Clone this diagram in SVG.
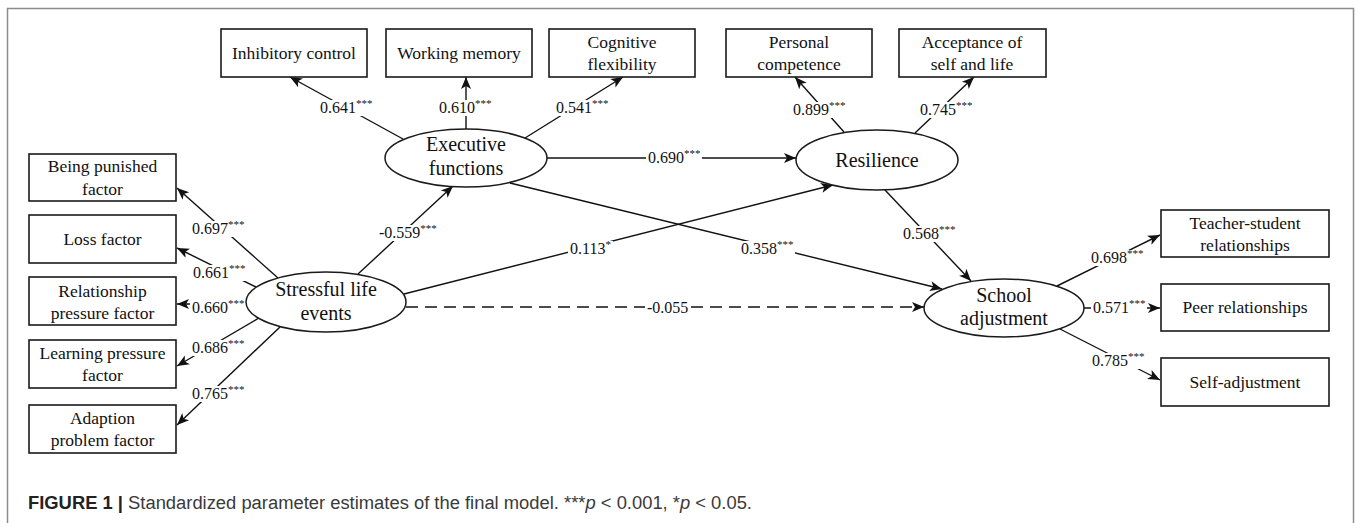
<svg xmlns="http://www.w3.org/2000/svg" width="1358" height="523" viewBox="0 0 1358 523">
<style>
.box{fill:#fff;stroke:#1a1a1a;stroke-width:1.6}
.ell{fill:#fff;stroke:#1a1a1a;stroke-width:1.5}
.t{font-family:"Liberation Serif","Times New Roman",serif;font-size:17.5px;fill:#111;text-anchor:middle}
.te{font-family:"Liberation Serif","Times New Roman",serif;font-size:20px;fill:#111;text-anchor:middle}
.c{stroke:#111;stroke-width:1.4;fill:none;marker-end:url(#ah)}
.d{stroke-dasharray:12 7}
.l{font-family:"Liberation Serif","Times New Roman",serif;font-size:16px;fill:#111}
.s{font-size:11px}
.bg{fill:#fff}
.frame{fill:none;stroke:#8c8c8c;stroke-width:1.5}
.cap{font-family:"Liberation Sans",Arial,sans-serif;font-size:18px;fill:#3a3a3a}
</style>
<defs>
<marker id="ah" markerUnits="userSpaceOnUse" markerWidth="13" markerHeight="11" refX="12" refY="5" orient="auto" overflow="visible">
<path d="M0,0 L12,5 L0,10 L3,5 z" fill="#111"/>
</marker>
</defs>
<rect width="1358" height="523" fill="#fff"/>
<rect class="frame" x="7.5" y="8.5" width="1346" height="530"/>

<g id="connectors">
<line class="c" x1="403" y1="139" x2="290" y2="77"/>
<line class="c" x1="466" y1="130" x2="466" y2="77"/>
<line class="c" x1="525" y1="138" x2="623" y2="77"/>
<line class="c" x1="844" y1="132" x2="795" y2="77"/>
<line class="c" x1="915" y1="133" x2="974" y2="77"/>
<line class="c" x1="547" y1="158" x2="796" y2="158"/>
<line class="c" x1="510" y1="183" x2="942" y2="289"/>
<line class="c" x1="404" y1="294" x2="833" y2="185"/>
<line class="c d" x1="406" y1="307" x2="924" y2="307"/>
<line class="c" x1="885" y1="190" x2="971" y2="281"/>
<line class="c" x1="358" y1="274" x2="453" y2="186"/>
<line class="c" x1="278" y1="278" x2="177" y2="188"/>
<line class="c" x1="256" y1="287" x2="177" y2="248"/>
<line class="c" x1="246" y1="304" x2="177" y2="304"/>
<line class="c" x1="259" y1="318" x2="177" y2="366"/>
<line class="c" x1="280" y1="327" x2="177" y2="425"/>
<line class="c" x1="1057" y1="286" x2="1160" y2="235"/>
<line class="c" x1="1084" y1="308" x2="1160" y2="308"/>
<line class="c" x1="1060" y1="329" x2="1160" y2="380"/>
</g>

<g id="labels">
<rect class="bg" x="318" y="100" width="56" height="16"/><text class="l" x="320" y="113">0.641<tspan class="s" dy="-6">***</tspan></text>
<rect class="bg" x="437" y="100" width="56" height="16"/><text class="l" x="439" y="113">0.610<tspan class="s" dy="-6">***</tspan></text>
<rect class="bg" x="554" y="100" width="56" height="16"/><text class="l" x="556" y="113">0.541<tspan class="s" dy="-6">***</tspan></text>
<rect class="bg" x="791" y="102" width="56" height="16"/><text class="l" x="793" y="115">0.899<tspan class="s" dy="-6">***</tspan></text>
<rect class="bg" x="918" y="102" width="56" height="16"/><text class="l" x="920" y="115">0.745<tspan class="s" dy="-6">***</tspan></text>
<rect class="bg" x="646" y="150" width="56" height="16"/><text class="l" x="648" y="163">0.690<tspan class="s" dy="-6">***</tspan></text>
<rect class="bg" x="190" y="221" width="56" height="16"/><text class="l" x="192" y="234">0.697<tspan class="s" dy="-6">***</tspan></text>
<rect class="bg" x="191" y="265" width="56" height="16"/><text class="l" x="193" y="278">0.661<tspan class="s" dy="-6">***</tspan></text>
<rect class="bg" x="190" y="300" width="56" height="16"/><text class="l" x="192" y="313">0.660<tspan class="s" dy="-6">***</tspan></text>
<rect class="bg" x="190" y="340" width="56" height="16"/><text class="l" x="192" y="353">0.686<tspan class="s" dy="-6">***</tspan></text>
<rect class="bg" x="190" y="386" width="56" height="16"/><text class="l" x="192" y="399">0.765<tspan class="s" dy="-6">***</tspan></text>
<rect class="bg" x="377" y="225" width="61" height="16"/><text class="l" x="379" y="238">-0.559<tspan class="s" dy="-6">***</tspan></text>
<rect class="bg" x="568" y="241" width="45" height="16"/><text class="l" x="570" y="254">0.113<tspan class="s" dy="-6">*</tspan></text>
<rect class="bg" x="739" y="241" width="56" height="16"/><text class="l" x="741" y="254">0.358<tspan class="s" dy="-6">***</tspan></text>
<rect class="bg" x="645" y="300" width="45" height="16"/><text class="l" x="647" y="313">-0.055</text>
<rect class="bg" x="901" y="226" width="56" height="16"/><text class="l" x="903" y="239">0.568<tspan class="s" dy="-6">***</tspan></text>
<rect class="bg" x="1089" y="250" width="56" height="16"/><text class="l" x="1091" y="263">0.698<tspan class="s" dy="-6">***</tspan></text>
<rect class="bg" x="1091" y="300" width="56" height="16"/><text class="l" x="1093" y="313">0.571<tspan class="s" dy="-6">***</tspan></text>
<rect class="bg" x="1090" y="353" width="56" height="16"/><text class="l" x="1092" y="366">0.785<tspan class="s" dy="-6">***</tspan></text>
</g>

<g id="inhibitory-control"><rect class="box" x="221" y="29" width="146" height="48"/><text class="t" x="294" y="59">Inhibitory control</text></g>
<g id="working-memory"><rect class="box" x="386" y="29" width="146" height="48"/><text class="t" x="459" y="59">Working memory</text></g>
<g id="cognitive-flexibility"><rect class="box" x="549" y="29" width="146" height="48"/><text class="t" x="622" y="48">Cognitive</text><text class="t" x="622" y="70">flexibility</text></g>
<g id="personal-competence"><rect class="box" x="726" y="29" width="146" height="48"/><text class="t" x="799" y="48">Personal</text><text class="t" x="799" y="70">competence</text></g>
<g id="acceptance"><rect class="box" x="899" y="29" width="147" height="48"/><text class="t" x="972" y="48">Acceptance of</text><text class="t" x="972" y="70">self and life</text></g>

<g id="executive-functions"><ellipse class="ell" cx="466" cy="158" rx="81" ry="29"/><text class="te" x="466" y="151">Executive</text><text class="te" x="466" y="175">functions</text></g>
<g id="resilience"><ellipse class="ell" cx="877" cy="160" rx="81" ry="30"/><text class="te" x="877" y="167">Resilience</text></g>
<g id="stressful-life-events"><ellipse class="ell" cx="326" cy="302" rx="80" ry="30"/><text class="te" x="326" y="296">Stressful life</text><text class="te" x="326" y="320">events</text></g>
<g id="school-adjustment"><ellipse class="ell" cx="1004" cy="308" rx="80" ry="29"/><text class="te" x="1004" y="302">School</text><text class="te" x="1004" y="325">adjustment</text></g>

<g id="being-punished"><rect class="box" x="29" y="154" width="147" height="47"/><text class="t" x="102.5" y="172">Being punished</text><text class="t" x="102.5" y="195">factor</text></g>
<g id="loss"><rect class="box" x="29" y="215" width="147" height="48"/><text class="t" x="102.5" y="245">Loss factor</text></g>
<g id="relationship-pressure"><rect class="box" x="29" y="277" width="147" height="48"/><text class="t" x="102.5" y="297">Relationship</text><text class="t" x="102.5" y="319">pressure factor</text></g>
<g id="learning-pressure"><rect class="box" x="29" y="340" width="147" height="48"/><text class="t" x="102.5" y="359">Learning pressure</text><text class="t" x="102.5" y="381">factor</text></g>
<g id="adaption-problem"><rect class="box" x="29" y="405" width="147" height="48"/><text class="t" x="102.5" y="424">Adaption</text><text class="t" x="102.5" y="446">problem factor</text></g>

<g id="teacher-student"><rect class="box" x="1161" y="210" width="168" height="47"/><text class="t" x="1245" y="229">Teacher-student</text><text class="t" x="1245" y="251">relationships</text></g>
<g id="peer-relationships"><rect class="box" x="1161" y="284" width="168" height="47"/><text class="t" x="1245" y="313">Peer relationships</text></g>
<g id="self-adjustment"><rect class="box" x="1161" y="358" width="168" height="48"/><text class="t" x="1245" y="388">Self-adjustment</text></g>

<text class="cap" x="28" y="509" textLength="724" lengthAdjust="spacingAndGlyphs"><tspan font-weight="bold" fill="#222">FIGURE 1 |</tspan> Standardized parameter estimates of the final model. ***<tspan font-style="italic">p</tspan> &lt; 0.001, *<tspan font-style="italic">p</tspan> &lt; 0.05.</text>
</svg>
